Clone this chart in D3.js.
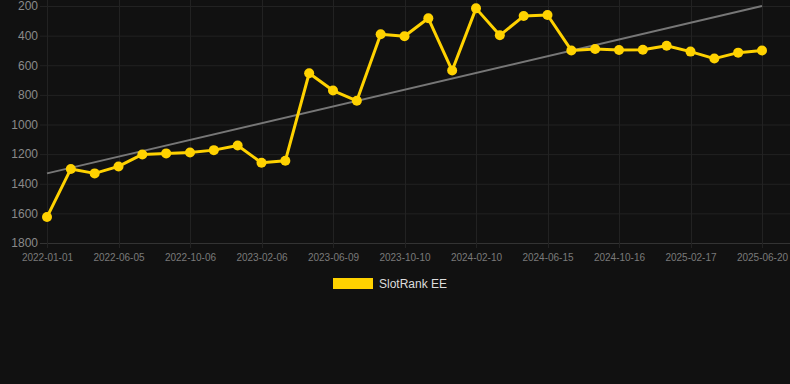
<!DOCTYPE html>
<html>
<head>
<meta charset="utf-8">
<script src="https://cdn.jsdelivr.net/npm/d3@7"></script>
<style>
  html, body { margin: 0; padding: 0; background: #111111; }
  svg { display: block; font-family: "Liberation Sans", Arial, sans-serif; }
</style>
</head>
<body>
<svg id="chart"></svg>
<script>
// dates (categorical, evenly spaced) and rank values
const dates = [
  "2022-01-01", "2022-02-22", "2022-04-14",
  "2022-06-05", "2022-07-16", "2022-08-26",
  "2022-10-06", "2022-11-16", "2022-12-27",
  "2023-02-06", "2023-03-19", "2023-04-29",
  "2023-06-09", "2023-07-20", "2023-08-30",
  "2023-10-10", "2023-11-20", "2023-12-31",
  "2024-02-10", "2024-03-22", "2024-05-04",
  "2024-06-15", "2024-07-26", "2024-09-05",
  "2024-10-16", "2024-11-26", "2025-01-07",
  "2025-02-17", "2025-03-30", "2025-05-10",
  "2025-06-20"
];
const rank = [
  1625, 1300, 1330, 1283, 1202, 1195, 1189, 1173, 1142, 1258,
  1245, 654, 771, 840, 391, 404, 283, 636, 216, 398,
  268, 261, 500, 490, 497, 495, 468, 508, 555, 515, 501
];
// trend line end values (first and last date)
const trendDates = ["2022-01-01", "2025-06-20"];
const trendValues = [1330, 200];
const yTicks = [200, 400, 600, 800, 1000, 1200, 1400, 1600, 1800];
const seriesName = "SlotRank EE";

const W = 790, H = 384;
const svg = d3.select("#chart").attr("width", W).attr("height", H);

const plotLeft = 40, plotRight = 790, plotTop = 6, plotBottom = 243;

const x = d3.scalePoint().domain(dates).range([47, 762]);
const y = d3.scaleLinear().domain([200, 1800]).range([plotTop, plotBottom]);

const tickDates = dates.filter((d, i) => i % 3 === 0);

// horizontal grid
svg.append("g")
  .selectAll("line")
  .data(yTicks)
  .enter()
  .append("line")
  .attr("x1", plotLeft)
  .attr("x2", plotRight)
  .attr("y1", d => y(d) + 0.5)
  .attr("y2", d => y(d) + 0.5)
  .attr("stroke", d => d === 1800 ? "#333333" : "#222222")
  .attr("stroke-width", 1);

// vertical grid
svg.append("g")
  .selectAll("line")
  .data(tickDates)
  .enter()
  .append("line")
  .attr("x1", d => Math.round(x(d)) + 0.5)
  .attr("x2", d => Math.round(x(d)) + 0.5)
  .attr("y1", plotTop - 6)
  .attr("y2", plotBottom + 5)
  .attr("stroke", "#222222")
  .attr("stroke-width", 1);

// y axis labels
const yAxis = d3.axisLeft(y).tickValues(yTicks).tickFormat(d3.format("d")).tickSize(0).tickPadding(0);
const yG = svg.append("g").attr("transform", `translate(38,0)`).call(yAxis);
yG.select(".domain").remove();
yG.selectAll("text")
  .attr("fill", "#8a8a8a")
  .attr("font-size", "12px")
  .attr("font-family", "Liberation Sans, Arial, sans-serif");

// x axis labels
const xAxis = d3.axisBottom(x).tickValues(tickDates).tickSize(0).tickPadding(0);
const xG = svg.append("g").attr("transform", `translate(0,${plotBottom + 11})`).call(xAxis);
xG.select(".domain").remove();
xG.selectAll("text")
  .attr("fill", "#7a7a7a")
  .attr("font-size", "10px")
  .attr("font-family", "Liberation Sans, Arial, sans-serif");

// trend line
svg.append("path")
  .datum(trendDates.map((d, i) => [d, trendValues[i]]))
  .attr("d", d3.line().x(d => x(d[0])).y(d => y(d[1])))
  .attr("fill", "none")
  .attr("stroke", "#777777")
  .attr("stroke-width", 2);

// series line
const color = "#FFD200";
svg.append("path")
  .datum(rank)
  .attr("d", d3.line().x((d, i) => x(dates[i])).y(d => y(d)))
  .attr("fill", "none")
  .attr("stroke", color)
  .attr("stroke-width", 3)
  .attr("stroke-linejoin", "round");

svg.append("g")
  .selectAll("circle")
  .data(rank)
  .enter()
  .append("circle")
  .attr("cx", (d, i) => x(dates[i]))
  .attr("cy", d => y(d))
  .attr("r", 5)
  .attr("fill", color);

// legend
const legend = svg.append("g").attr("transform", "translate(333,278)");
legend.append("rect")
  .attr("width", 40)
  .attr("height", 11)
  .attr("fill", color);
legend.append("text")
  .attr("x", 46)
  .attr("y", 10)
  .attr("fill", "#dddddd")
  .attr("font-size", "12px")
  .text(seriesName);
</script>
</body>
</html>
